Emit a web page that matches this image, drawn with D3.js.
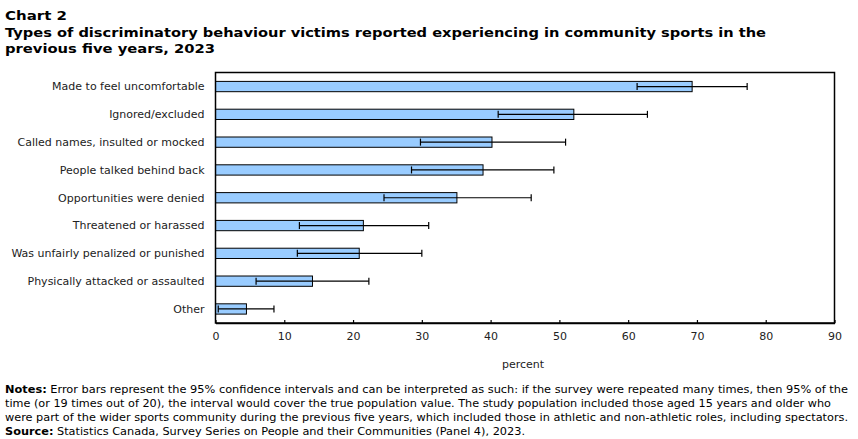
<!DOCTYPE html>
<html>
<head>
<meta charset="utf-8">
<script src="https://cdn.jsdelivr.net/npm/d3@7"></script>
<style>
  body { margin: 0; background: #fff; }
  svg { display: block; }
</style>
</head>
<body>
<svg id="canvas" width="858" height="439"></svg>
<script>
// values (percent)
let categories = [
  "Made to feel uncomfortable",
  "Ignored/excluded",
  "Called names, insulted or mocked",
  "People talked behind back",
  "Opportunities were denied",
  "Threatened or harassed",
  "Was unfairly penalized or punished",
  "Physically attacked or assaulted",
  "Other"
]
let values = [69.3, 52.1, 40.2, 38.9, 35.1, 21.5, 20.9, 14.1, 4.5]
let lower = [61.3, 41.1, 29.8, 28.5, 24.5, 12.2, 11.9, 5.9, 0.4]
let upper = [77.3, 62.8, 50.9, 49.2, 45.9, 31.0, 30.0, 22.3, 8.5]
let xTicks = [0, 10, 20, 30, 40, 50, 60, 70, 80, 90]

let canvas = d3.select("#canvas")

let margin = {left: 215.5, right: 23.5, top: 72.5, bottom: 116}
let width = 858 - margin.left - margin.right
let height = 439 - margin.top - margin.bottom

let xScale = d3.scaleLinear().domain([0, 90]).range([0, width])
let yScale = d3.scaleBand().domain(categories).range([0, height]).paddingInner(0.63).paddingOuter(0.32)

let bodyFont = "Verdana, 'DejaVu Sans', sans-serif"

// title
let titleLines = [
  "Chart 2",
  "Types of discriminatory behaviour victims reported experiencing in community sports in the",
  "previous five years, 2023"
]
let titleWidths = [62, 761, 210]
canvas.selectAll(".title")
  .data(titleLines)
  .enter()
  .append("text")
  .attr("class", "title")
  .attr("x", 5)
  .attr("y", (d, i) => 20 + i * 16.5)
  .attr("font-family", bodyFont)
  .attr("font-weight", "bold")
  .attr("font-size", 13)
  .attr("fill", "#000")
  .attr("textLength", (d, i) => titleWidths[i])
  .attr("lengthAdjust", "spacingAndGlyphs")
  .text(d => d)

let g = canvas.append("g").attr("transform", "translate(" + margin.left + "," + margin.top + ")")

// bars
let rows = categories.map((c, i) => ({name: c, value: values[i], lo: lower[i], hi: upper[i]}))

g.selectAll(".bar")
  .data(rows)
  .enter()
  .append("rect")
  .attr("class", "bar")
  .attr("x", 0)
  .attr("y", d => yScale(d.name))
  .attr("width", d => xScale(d.value))
  .attr("height", yScale.bandwidth())
  .attr("fill", "#99ccff")
  .attr("stroke", "#000")
  .attr("stroke-width", 1)

// error bars
let err = g.selectAll(".err")
  .data(rows)
  .enter()
  .append("g")
  .attr("class", "err")
  .attr("transform", d => "translate(0," + (yScale(d.name) + yScale.bandwidth() / 2) + ")")
  .attr("stroke", "#000")
  .attr("stroke-width", 1.2)

err.append("line")
  .attr("x1", d => xScale(d.lo))
  .attr("x2", d => xScale(d.hi))
err.append("line")
  .attr("x1", d => xScale(d.lo)).attr("x2", d => xScale(d.lo))
  .attr("y1", -3.5).attr("y2", 3.5)
err.append("line")
  .attr("x1", d => xScale(d.hi)).attr("x2", d => xScale(d.hi))
  .attr("y1", -3.5).attr("y2", 3.5)

// frame
g.append("rect")
  .attr("x", 0).attr("y", 0)
  .attr("width", width).attr("height", height)
  .attr("fill", "none")
  .attr("stroke", "#000")
  .attr("stroke-width", 1.5)

// category labels
g.selectAll(".cat")
  .data(categories)
  .enter()
  .append("text")
  .attr("class", "cat")
  .attr("x", -11)
  .attr("y", d => yScale(d) + yScale.bandwidth() / 2)
  .attr("dy", "0.35em")
  .attr("text-anchor", "end")
  .attr("font-family", bodyFont)
  .attr("font-size", 11)
  .attr("fill", "#222")
  .text(d => d)

// x axis, ticks point up into the plot
let xAxis = d3.axisBottom(xScale).tickValues(xTicks).tickSize(-3).tickSizeOuter(0).tickPadding(9)
let axisG = g.append("g")
  .attr("transform", "translate(0," + height + ")")
  .call(xAxis)
axisG.select(".domain").attr("stroke-width", 1.5)
axisG.selectAll(".tick line").attr("stroke-width", 1.2)
axisG.selectAll("text").attr("font-family", bodyFont).attr("font-size", 11).attr("fill", "#222")

g.append("text")
  .attr("x", width / 2 - 2)
  .attr("y", height + 45)
  .attr("text-anchor", "middle")
  .attr("font-family", bodyFont)
  .attr("font-size", 11)
  .attr("fill", "#222")
  .text("percent")

// notes
let noteFont = "Tahoma, 'DejaVu Sans Condensed', 'DejaVu Sans', sans-serif"
let noteLines = [
  {b: "Notes:", t: " Error bars represent the 95% confidence intervals and can be interpreted as such: if the survey were repeated many times, then 95% of the", w: 843},
  {b: "", t: "time (or 19 times out of 20), the interval would cover the true population value. The study population included those aged 15 years and older who", w: 826},
  {b: "", t: "were part of the wider sports community during the previous five years, which included those in athletic and non-athletic roles, including spectators.", w: 843},
  {b: "Source:", t: " Statistics Canada, Survey Series on People and their Communities (Panel 4), 2023.", w: 520}
]
let notes = canvas.selectAll(".note")
  .data(noteLines)
  .enter()
  .append("text")
  .attr("class", "note")
  .attr("x", 5)
  .attr("y", (d, i) => 393 + i * 14)
  .attr("font-family", noteFont)
  .attr("font-size", 11)
  .attr("fill", "#000")
  .attr("textLength", d => d.w)
  .attr("lengthAdjust", "spacingAndGlyphs")
notes.append("tspan").attr("font-weight", "bold").text(d => d.b)
notes.append("tspan").text(d => d.t)
</script>
</body>
</html>
